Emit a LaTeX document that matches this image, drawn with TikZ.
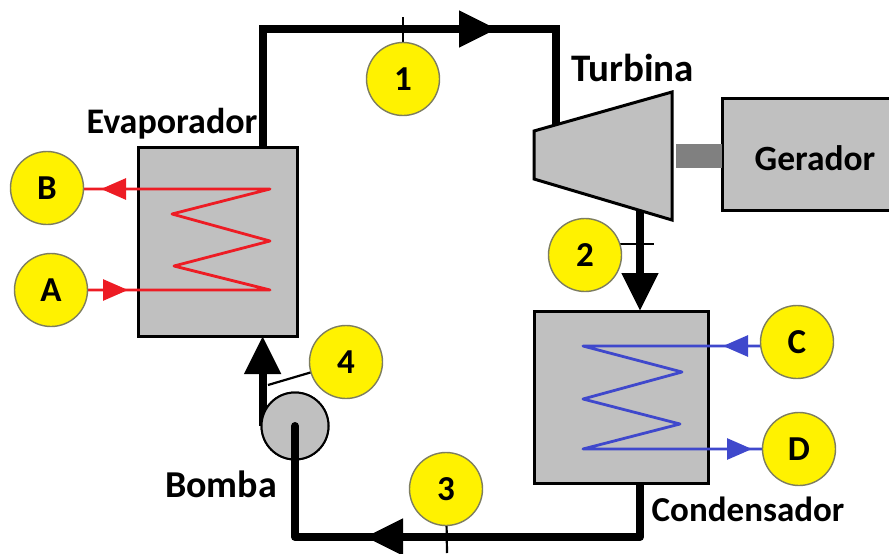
\documentclass[tikz,border=0pt]{standalone}
\usepackage{fontspec}
\setmainfont{Carlito}
\usetikzlibrary{arrows.meta}
\definecolor{boxgray}{RGB}{192,192,192}
\definecolor{shaftgray}{RGB}{128,128,128}
\definecolor{mark}{RGB}{255,242,0}
\definecolor{hotred}{RGB}{237,28,36}
\definecolor{coldblue}{RGB}{63,72,204}
\definecolor{ringgray}{RGB}{125,125,95}
\tikzset{
  x=1pt,y=-1pt,
  unitbox/.style={draw=black,line width=3pt,fill=boxgray,inner sep=0pt,outer sep=0pt},
  badge/.style={circle,draw=ringgray,line width=1.4pt,fill=mark,minimum size=73pt,inner sep=0pt,outer sep=0pt,font=\fontsize{35}{35}\selectfont\bfseries,text=black},
  caption/.style={font=\fontsize{36}{36}\selectfont\bfseries,text=black,inner sep=0pt},
  pipe/.style={draw=black,line width=8pt},
  bigtip/.style={-{Triangle[length=38pt,width=35pt]}},
  thin tick/.style={draw=black,line width=2.2pt},
  hot/.style={draw=hotred,line width=2.8pt,line join=round},
  cold/.style={draw=coldblue,line width=2.8pt,line join=round},
  hottip/.style={-{Triangle[length=25pt,width=21pt]}},
}
\begin{document}
\begin{tikzpicture}
\useasboundingbox (0,0) rectangle (889,554);
\clip (0,0) rectangle (889,554);
% units
\node[unitbox,minimum width=159pt,minimum height=189pt] (evap) at (217.5,241.5) {};
\node[unitbox,minimum width=174pt,minimum height=172pt] (cond) at (621,397) {};
\node[unitbox,minimum width=190pt,minimum height=112pt,anchor=west] (gen) at (722,154) {};
\node[unitbox,circle,minimum size=67pt,line width=2pt] (pump) at (295,426) {};
\coordinate (tA) at (534,131);
\coordinate (tB) at (672,92);
\coordinate (tC) at (672,220);
\coordinate (tD) at (534,179);
% main pipes
\coordinate (p1top) at (403,29);
\coordinate (p1tip) at (497,29);
\coordinate (turbIn) at (556,125);
\coordinate (turbOut) at (640,208);
\coordinate (p3tip) at (365,537);
\draw[pipe,line join=miter] (pump.165 |- evap.north) |- (p1top) -- (p1tip) -| (turbIn);
\draw[pipe,bigtip] (p1top) -- (p1tip);
\draw[pipe,bigtip] (turbOut) -- (turbOut |- cond.north);
\draw[pipe,line join=round] (pump.center) |- (p3tip) -| (turbOut |- cond.south);
\draw[pipe,bigtip] (turbOut |- p3tip) -- (p3tip);
% turbine and shaft
\draw[unitbox,line join=miter] (tA) -- (tB) -- (tC) -- (tD) -- cycle;
\node[draw=none,fill=shaftgray,minimum width=46pt,minimum height=24pt,inner sep=0pt,outer sep=0pt,anchor=east] (shaft) at (gen.west |- 0,156) {};
\node[font=\fontsize{35.5}{35.5}\selectfont\bfseries,inner sep=0pt] (gerlabel) at (815,158) {Gerador};
% pump outlet
\draw[pipe,bigtip] (pump.165 |- pump.center) -- (pump.165 |- evap.south);
\node[unitbox,circle,minimum size=67pt,line width=2pt] (pumpTop) at (295,426) {};
\draw[pipe,line cap=round] (pumpTop.center) -- (pumpTop.south);
% tags
\coordinate (t1) at (403,17);
\coordinate (t2) at (654,244);
\coordinate (t3) at (447,553);
\coordinate (t4) at (268,385);
\coordinate (n1) at (403,79);
\coordinate (n2) at (585,255);
\coordinate (n3) at (446,489);
\coordinate (n4) at (346,362);
\draw[thin tick] (n1) -- (t1);
\draw[thin tick] (n2 |- t2) -- (t2);
\draw[thin tick] (n3) -- (t3);
\draw[thin tick] (n4) -- (t4);
% hot coil
\coordinate (nA) at (51,290);
\coordinate (nB) at (47,189);
\coordinate (h1) at (270,189);
\coordinate (h2) at (172,214);
\coordinate (h3) at (270,241);
\coordinate (h4) at (174,266);
\coordinate (h5) at (270,290);
\coordinate (hBtip) at (101,189);
\coordinate (hAtip) at (128,290);
\draw[hot] (nA) -- (h5) -- (h4) -- (h3) -- (h2) -- (h1) -- (nB);
\draw[hot,hottip] (h1) -- (hBtip);
\draw[hot,hottip] (nA) -- (hAtip);
% cold coil
\coordinate (nC) at (797,346);
\coordinate (nD) at (799,449);
\coordinate (c1) at (583,346);
\coordinate (c2) at (682,372);
\coordinate (c3) at (583,399);
\coordinate (c4) at (680,424);
\coordinate (c5) at (583,449);
\coordinate (cCtip) at (723,346);
\coordinate (cDtip) at (752,449);
\draw[cold] (nC) -- (c1) -- (c2) -- (c3) -- (c4) -- (c5) -- (nD);
\draw[cold,hottip] (nC) -- (cCtip);
\draw[cold,hottip] (c5) -- (cDtip);
% badges
\node[badge] (b1) at (n1) {1};
\node[badge] (b2) at (n2) {2};
\node[badge] (b3) at (n3) {3};
\node[badge] (b4) at (n4) {4};
\node[badge] (bA) at (nA) {A};
\node[badge] (bB) at (47,188) {B};
\node[badge] (bC) at (797,342) {C};
\node[badge] (bD) at (nD) {D};
% captions
\node[caption] (lev) at (172,124) {Evaporador};
\node[caption,font=\fontsize{39}{39}\selectfont\bfseries] (ltu) at (632.5,68) {Turbina};
\node[caption,font=\fontsize{38}{38}\selectfont\bfseries] (lbo) at (221,484) {Bomba};
\node[caption,font=\fontsize{35}{35}\selectfont\bfseries] (lco) at (748,509) {Condensador};
\end{tikzpicture}
\end{document}
